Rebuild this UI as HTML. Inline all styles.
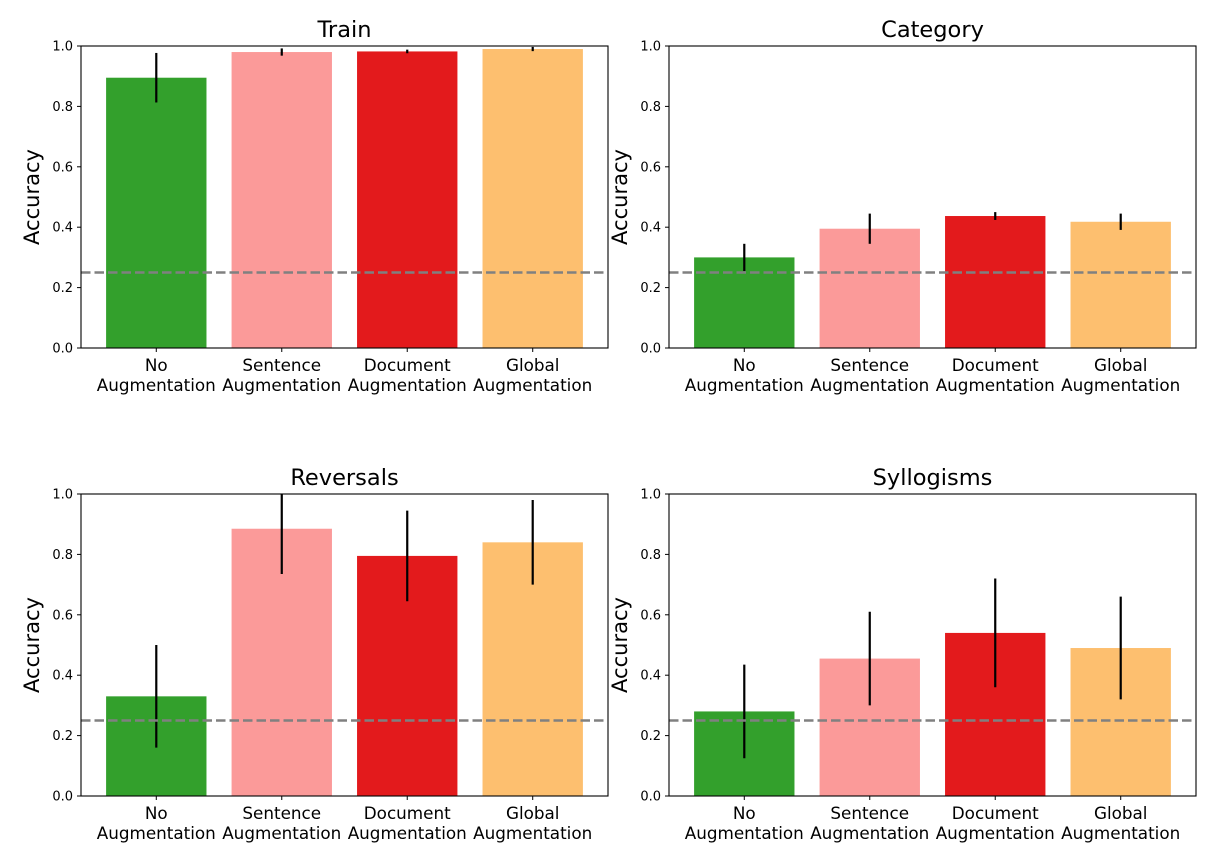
<!DOCTYPE html>
<html><head><meta charset="utf-8"><style>
html,body{margin:0;padding:0;background:#fff;}
svg{display:block;font-family:"DejaVu Sans","Liberation Sans",sans-serif;}
</style></head><body>
<svg id="fig" width="1207" height="851" viewBox="0 0 1207 851"></svg>
<script>
const categories = [["No","Augmentation"],["Sentence","Augmentation"],["Document","Augmentation"],["Global","Augmentation"]];
const panelTitles = ["Train","Category","Reversals","Syllogisms"];
const trainValues = [0.895,0.980,0.982,0.990];
const trainErrors = [0.082,0.012,0.006,0.007];
const categoryValues = [0.300,0.395,0.437,0.418];
const categoryErrors = [0.045,0.050,0.013,0.027];
const reversalsValues = [0.330,0.885,0.795,0.840];
const reversalsErrors = [0.170,0.150,0.150,0.140];
const syllogismsValues = [0.280,0.455,0.540,0.490];
const syllogismsErrors = [0.155,0.155,0.180,0.170];
const chanceLevel = 0.25;
const yTicks = [0,0.2,0.4,0.6,0.8,1.0];
const yTickLabels = ["0.0","0.2","0.4","0.6","0.8","1.0"];
const colors = ["#33a02c","#fb9a99","#e31a1c","#fdbf6f"];

const NS="http://www.w3.org/2000/svg";
const svg=document.getElementById('fig');
function mk(tag,attrs,parent){const e=document.createElementNS(NS,tag);for(const k in attrs)e.setAttribute(k,attrs[k]);(parent||svg).appendChild(e);return e;}
const panels=[
 {x:81,y:46,vals:trainValues,errs:trainErrors,name:'train'},
 {x:669,y:46,vals:categoryValues,errs:categoryErrors,name:'category'},
 {x:81,y:494,vals:reversalsValues,errs:reversalsErrors,name:'reversals'},
 {x:669,y:494,vals:syllogismsValues,errs:syllogismsErrors,name:'syllogisms'}];
const W=527,H=302;
panels.forEach((p,pi)=>{
 const g=mk('g',{});
 
 
 const xs=i=>p.x+(i+0.6)/4.2*W;
 const ys=v=>p.y+H-Math.max(0,Math.min(1,v))*H;
 const bw=0.8/4.2*W;
 p.vals.forEach((v,i)=>{
  const r=mk('rect',{x:xs(i)-bw/2,y:ys(v),width:bw,height:ys(0)-ys(v),fill:colors[i]},g);
  
  
 });
 p.vals.forEach((v,i)=>{
  const e=mk('line',{x1:xs(i),x2:xs(i),y1:ys(v-p.errs[i]),y2:ys(v+p.errs[i]),stroke:'#000','stroke-width':2.2},g);
  
  
 });
 const cl=mk('line',{x1:p.x,x2:p.x+W,y1:ys(chanceLevel),y2:ys(chanceLevel),stroke:'#808080','stroke-width':2.6,'stroke-dasharray':'9.5,4'},g);
 
 
 const fr=mk('rect',{x:p.x,y:p.y,width:W,height:H,fill:'none',stroke:'#000','stroke-width':1.1},g);
 
 
 yTicks.forEach((t,ti)=>{
  mk('line',{x1:p.x-4,x2:p.x,y1:ys(t),y2:ys(t),stroke:'#000','stroke-width':1},g);
  const tl=mk('text',{x:p.x-8,y:ys(t)+4.5,'text-anchor':'end','font-size':13,fill:'#000'},g);
  tl.textContent=yTickLabels[ti];
  
  
 });
 categories.forEach((c,i)=>{
  mk('line',{x1:xs(i),x2:xs(i),y1:p.y+H,y2:p.y+H+4,stroke:'#000','stroke-width':1},g);
  const t=mk('text',{x:xs(i),y:p.y+H+23,'text-anchor':'middle','font-size':16.8,fill:'#000'},g);
  t.textContent=c[0];
  
  
  const t2=mk('text',{x:xs(i),y:p.y+H+43,'text-anchor':'middle','font-size':16.8,fill:'#000'},g);
  t2.textContent=c[1];
  
  
 });
 const yl=mk('text',{x:0,y:0,'text-anchor':'middle','font-size':21,fill:'#000',transform:'translate('+(p.x-42)+','+(p.y+H/2)+') rotate(-90)'},g);
 yl.textContent='Accuracy';
 
 
 const tt=mk('text',{x:p.x+W/2,y:p.y-9,'text-anchor':'middle','font-size':22.5,fill:'#000'},g);
 tt.textContent=panelTitles[pi];
 
 
});
</script>
</body></html>
